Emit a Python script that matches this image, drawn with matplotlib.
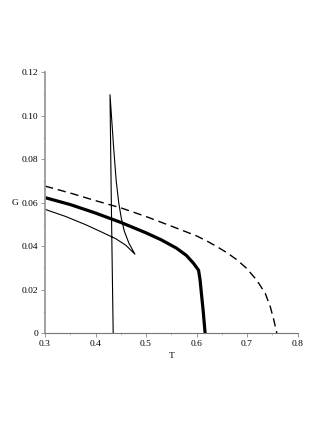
import numpy as np
import matplotlib.pyplot as plt
from matplotlib.ticker import MultipleLocator

plt.rcParams['font.family'] = ['Liberation Serif', 'DejaVu Serif']

# dashed curve
dash_T = [0.30, 0.35, 0.40, 0.45, 0.50, 0.55, 0.60, 0.62, 0.64, 0.66, 0.68, 0.699, 0.719, 0.736, 0.746, 0.753, 0.759]
dash_G = [0.0677, 0.0645, 0.0610, 0.0577, 0.0537, 0.0493, 0.0448, 0.0425, 0.0399, 0.0371, 0.0338, 0.0299, 0.0245, 0.0184, 0.0122, 0.0061, 0.0]

# thick curve
thick_T = [0.30, 0.35, 0.40, 0.45, 0.50, 0.53, 0.56, 0.58, 0.594, 0.604, 0.607, 0.610, 0.613, 0.617]
thick_G = [0.0624, 0.0592, 0.0553, 0.0510, 0.0462, 0.0430, 0.0392, 0.0358, 0.0322, 0.0290, 0.0245, 0.0175, 0.0107, 0.0]

# thin swallowtail curve
thin_T = [0.30, 0.34, 0.38, 0.41, 0.44, 0.46, 0.478, 0.466, 0.457, 0.451, 0.446, 0.441, 0.436, 0.4287, 0.4305, 0.4325, 0.435]
thin_G = [0.0570, 0.0538, 0.0500, 0.0468, 0.0435, 0.0405, 0.0364, 0.0415, 0.0470, 0.0530, 0.0600, 0.0700, 0.0850, 0.1097, 0.075, 0.040, 0.0]

fig = plt.figure(figsize=(3.27, 4.23), dpi=100)
ax = fig.add_axes([0.1376, 0.212, 0.7724, 0.617])

ax.plot(dash_T, dash_G, color='black', lw=1.0, ls=(0, (6, 3.5)))
ax.plot(thick_T, thick_G, color='black', lw=2.3, solid_joinstyle='round')
ax.plot(thin_T, thin_G, color='black', lw=0.8)

ax.set_xlim(0.3, 0.8)
ax.set_ylim(0, 0.12)
ax.xaxis.set_major_locator(MultipleLocator(0.1))
ax.xaxis.set_minor_locator(MultipleLocator(0.05))
ax.yaxis.set_major_locator(MultipleLocator(0.02))
ax.yaxis.set_minor_locator(MultipleLocator(0.01))
ax.xaxis.set_major_formatter(plt.FuncFormatter(lambda v, p: f'{v:.1f}'))
ax.yaxis.set_major_formatter(plt.FuncFormatter(lambda v, p: '0' if v == 0 else f'{v:.2f}'))

for s in ['top', 'right']:
    ax.spines[s].set_visible(False)
ax.spines['left'].set_color('#999999')
ax.spines['left'].set_linewidth(1.3)
ax.spines['bottom'].set_color('#777777')
ax.spines['bottom'].set_linewidth(0.8)
ax.tick_params(which='major', length=3, width=0.6, color='#888888', labelsize=6.8, pad=2)
ax.tick_params(which='minor', length=1.5, width=0.5, color='#aaaaaa')

ax.set_xlabel('T', fontsize=6.8)
ax.xaxis.set_label_coords(0.5, -0.07)
ax.set_ylabel('G', rotation=0, fontsize=6.8, va='center', ha='right')
ax.yaxis.set_label_coords(-0.105, 0.5)

fig.savefig('out.png', dpi=100)
